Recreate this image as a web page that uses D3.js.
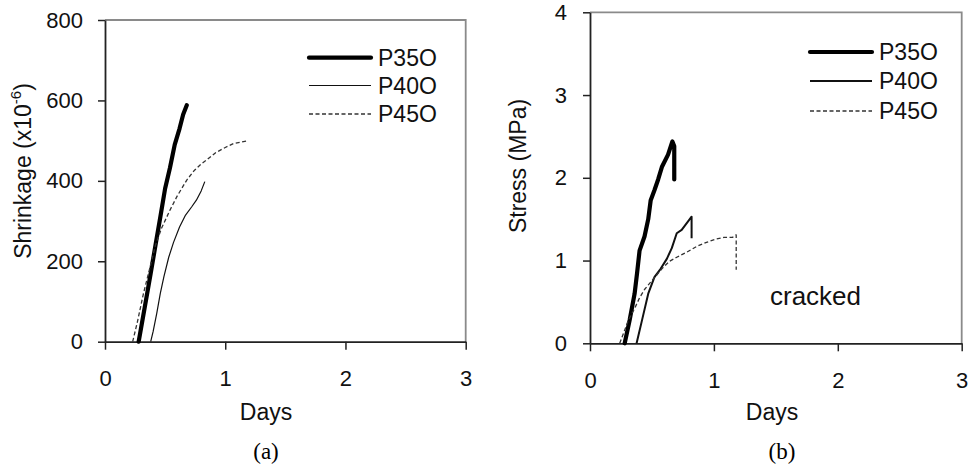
<!DOCTYPE html>
<html><head><meta charset="utf-8">
<script src="https://cdn.jsdelivr.net/npm/d3@7"></script>
<style>
body{margin:0;background:#fff;}
svg{display:block;}
</style></head>
<body><svg id="c" width="970" height="475"></svg>
<script>
// ---- data ----
const seriesNames = ["P35O","P40O","P45O"];
const dayTicks = [0,1,2,3];
const shrinkTicks = [0,200,400,600,800];
const stressTicks = [0,1,2,3,4];

const shrinkP35O = [[0.28,0],[0.33,85],[0.38,170],[0.42,240],[0.46,310],[0.50,381],[0.54,432],[0.58,490],[0.62,530],[0.65,565],[0.68,588]];
const shrinkP40O = [[0.38,0],[0.40,25],[0.43,70],[0.46,120],[0.49,162],[0.53,210],[0.57,247],[0.62,285],[0.67,315],[0.72,335],[0.76,352],[0.80,375],[0.83,398]];
const shrinkP45O = [[0.23,0],[0.27,50],[0.32,120],[0.37,180],[0.42,240],[0.47,282],[0.54,327],[0.60,362],[0.68,402],[0.74,425],[0.80,442],[0.85,453],[0.92,470],[1.00,483],[1.07,493],[1.19,500]];

const stressP35O = [[0.28,0],[0.32,0.28],[0.36,0.6],[0.38,0.85],[0.40,1.12],[0.44,1.29],[0.47,1.5],[0.49,1.73],[0.52,1.85],[0.55,1.98],[0.58,2.13],[0.63,2.28],[0.665,2.44],[0.68,2.38],[0.68,1.98]];
const stressP40O = [[0.376,0],[0.42,0.28],[0.47,0.6],[0.52,0.8],[0.57,0.9],[0.62,1.02],[0.66,1.15],[0.70,1.33],[0.74,1.37],[0.79,1.47],[0.82,1.53],[0.82,1.27]];
const stressP45O = [[0.24,0],[0.27,0.12],[0.31,0.28],[0.36,0.42],[0.40,0.55],[0.44,0.65],[0.49,0.74],[0.53,0.81],[0.58,0.9],[0.64,0.99],[0.70,1.04],[0.78,1.1],[0.86,1.17],[0.94,1.22],[1.02,1.26],[1.08,1.28],[1.15,1.28],[1.18,1.31],[1.18,0.89]];

const SANS = "'Liberation Sans',Arial,sans-serif";
const SERIF = "'Liberation Serif','Times New Roman',serif";
const svg = d3.select("#c");

function panel(cfg){
  const x = d3.scaleLinear().domain([0,3]).range([cfg.x0,cfg.x1]);
  const y = d3.scaleLinear().domain(cfg.ydom).range([cfg.y0,cfg.y1]);
  const g = svg.append("g").style("font-family",SANS);
  g.append("path").attr("d",`M${cfg.x0},${cfg.y1}H${cfg.x1}V${cfg.y0}`)
    .attr("fill","none").attr("stroke","#8a8a8a").attr("stroke-width",1.8);
  const ya = g.append("g").attr("transform",`translate(${cfg.x0},0)`)
    .call(d3.axisLeft(y).tickValues(cfg.yticks).tickSize(7).tickSizeOuter(0).tickPadding(cfg.ypad).tickFormat(d3.format("d")));
  const xa = g.append("g").attr("transform",`translate(0,${cfg.y0})`)
    .call(d3.axisBottom(x).tickValues(dayTicks).tickSize(8).tickSizeOuter(0).tickPadding(21).tickFormat(d3.format("d")));
  [ya,xa].forEach(a=>{
    a.attr("font-family",null);
    a.select(".domain").attr("stroke","#222").attr("stroke-width",1.8);
    a.selectAll(".tick line").attr("stroke","#222").attr("stroke-width",1.5);
    a.selectAll(".tick text").style("font-size","22px").style("fill","#111").style("font-family",SANS);
  });
  const line = d3.line().x(d=>x(d[0])).y(d=>y(d[1]));
  cfg.data.forEach((arr,i)=>{
    const s = cfg.styles[i];
    g.append("path").datum(arr).attr("d",line).attr("fill","none")
      .attr("stroke",s.color).attr("stroke-width",s.w)
      .attr("stroke-linejoin","round").attr("stroke-linecap",i===0?"round":"butt")
      .attr("stroke-dasharray",s.dash);
  });
  seriesNames.forEach((n,i)=>{
    const s = cfg.styles[i]; const ly = cfg.legY[i];
    g.append("line").attr("x1",cfg.legX).attr("x2",cfg.legX+62).attr("y1",ly).attr("y2",ly)
      .attr("stroke",s.color).attr("stroke-width",s.w).attr("stroke-dasharray",s.dash)
      .attr("stroke-linecap",i===0?"round":"butt");
    g.append("text").attr("x",cfg.legX+69).attr("y",ly+8).style("font-size","23px").style("fill","#111").text(n);
  });
  g.append("text").attr("x",cfg.daysX).attr("y",420).attr("text-anchor","middle").style("font-size","23px").style("fill","#111").text("Days");
  const yt = g.append("text").attr("transform",`translate(${cfg.ytX},${cfg.ytY}) rotate(-90)`)
    .attr("text-anchor","middle").attr("dominant-baseline","central").style("font-size","23px").style("fill","#111");
  cfg.ytitle(yt);
  g.append("text").attr("x",cfg.capX).attr("y",459).attr("text-anchor","middle")
    .style("font-family",SERIF).style("font-size","23px").style("fill","#000").text(cfg.cap);
  return {x,y,g};
}

panel({x0:105,x1:465.7,y0:341.7,y1:20,ydom:[0,800],yticks:shrinkTicks,ypad:15,
  data:[shrinkP35O,shrinkP40O,shrinkP45O],legX:309,legY:[57.7,85.5,114],
  styles:[{w:4.2,dash:null,color:"#000"},{w:1.2,dash:null,color:"#111"},{w:1.3,dash:"4,2.5",color:"#333"}],
  daysX:266,ytX:23,ytY:171,capX:266,cap:"(a)",
  ytitle:t=>{t.append("tspan").text("Shrinkage (x10");
    t.append("tspan").style("font-size","15px").attr("dy",-8).text("-6");
    t.append("tspan").attr("dy",8).text(")");}});

const p2 = panel({x0:590,x1:961.7,y0:343.3,y1:12.3,ydom:[0,4],yticks:stressTicks,ypad:16,
  data:[stressP35O,stressP40O,stressP45O],legX:810,legY:[52,81,111],
  styles:[{w:4.2,dash:null,color:"#000"},{w:2.0,dash:null,color:"#111"},{w:1.3,dash:"4,2.5",color:"#333"}],
  daysX:772,ytX:518,ytY:166,capX:782,cap:"(b)",
  ytitle:t=>t.text("Stress (MPa)")});

p2.g.append("text").attr("x",770).attr("y",305).style("font-size","26px").style("fill","#111").text("cracked");
</script></body></html>
